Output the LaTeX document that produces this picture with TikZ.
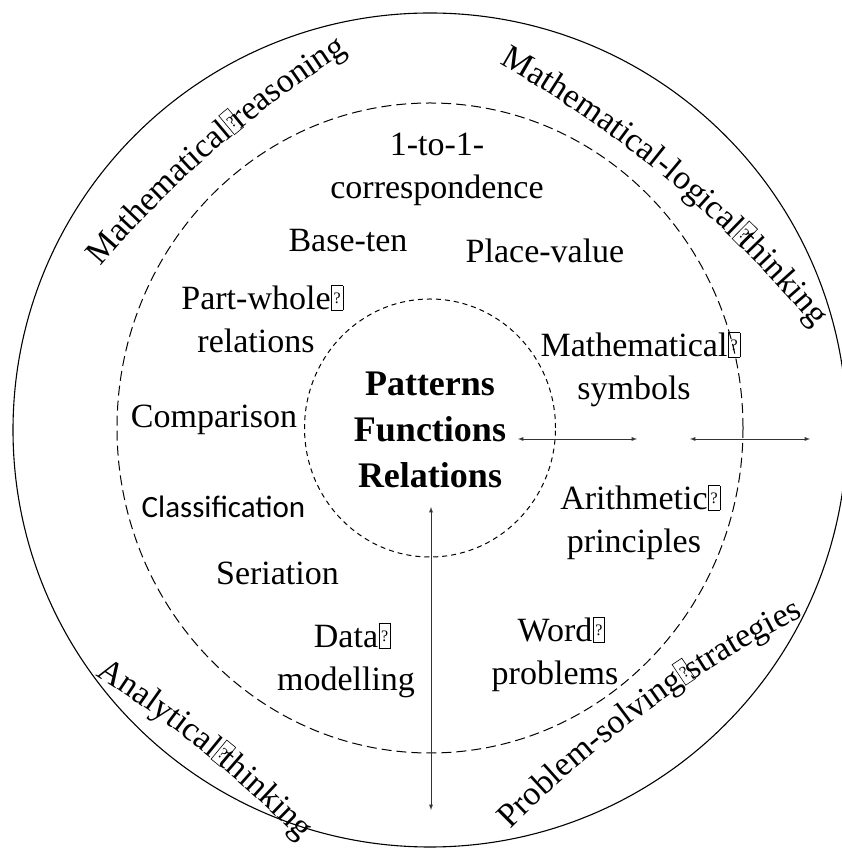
\documentclass[tikz,border=0pt]{standalone}
\usepackage{fontspec}
\setmainfont{Liberation Serif}
\newfontfamily\calib{Carlito}
\usetikzlibrary{calc,decorations.text}
\newcommand{\qbox}{\rlap{\hspace{0.5bp}\fboxsep=0pt\fboxrule=0.6bp\fbox{\makebox[11bp]{\rule{0pt}{24bp}\raisebox{6bp}{\fontsize{16bp}{16bp}\selectfont ?}}}}}
\tikzset{
  lbl/.style={inner sep=0pt,anchor=base,align=center,font=\fontsize{34bp}{43bp}\selectfont},
  core/.style={inner sep=0pt,anchor=base,align=center,font=\fontsize{36bp}{46bp}\selectfont\bfseries},
  ring/.style={dash pattern=on 10bp off 5bp,line width=1bp},
  hub/.style={dash pattern=on 5bp off 4bp,line width=1bp},
  link/.style={<->,black!80,line width=0.9bp},
}
\begin{document}
\begin{tikzpicture}[>=latex,line join=bevel,]
%%
\useasboundingbox (0bp,0bp) rectangle (842bp,849bp);
\draw [line width=1.1bp] (430bp,419bp) circle (417bp);
\draw [ring] (430bp,421bp) ellipse (313bp and 325bp);
\draw [hub] (430bp,421bp) ellipse (125.5bp and 129bp);
  \node (pfr) at (430bp,361bp) [core] {Patterns\\Functions\\Relations};
  \node (corr) at (437bp,650bp) [lbl] {1-to-1-\\correspondence};
  \node (baseten) at (348bp,597bp) [lbl] {Base-ten};
  \node (placeval) at (545bp,586bp) [lbl] {Place-value};
  \node (partwhole) at (256bp,496bp) [lbl] {Part-whole\qbox\\relations};
  \node (mathsym) at (634bp,449bp) [lbl] {Mathematical\qbox\\symbols};
  \node (compar) at (214bp,421bp) [lbl] {Comparison};
  \node (classif) at (223.5bp,331bp) [lbl,font=\fontsize{31bp}{40bp}\calib] {Classification};
  \node (arith) at (634bp,296bp) [lbl] {Arithmetic\qbox\\principles};
  \node (seriat) at (277.5bp,264bp) [lbl] {Seriation};
  \node (datamod) at (346bp,158bp) [lbl] {Data\qbox\\modelling};
  \node (wordprob) at (555bp,164bp) [lbl] {Word\qbox\\problems};
  \coordinate (fnL) at (518bp,410bp);
  \coordinate (fnR) at (637bp,410bp);
  \coordinate (msL) at (690bp,410bp);
  \coordinate (msR) at (810bp,410bp);
  \coordinate (relT) at (431bp,342bp);
  \coordinate (relB) at (431bp,39bp);
  \draw [link] (fnL) -- (fnR);
  \draw [link] (msL) -- (msR);
  \draw [link] (relT) -- (relB);
  \coordinate (reasonM) at (216bp,699bp);
  \coordinate (logicM) at (669bp,668bp);
  \coordinate (analytM) at (203bp,97bp);
  \coordinate (problemM) at (648bp,138bp);
  \coordinate (reasonC) at ($(reasonM)+(-49:1100bp)$);
  \coordinate (logicC) at ($(logicM)+(-130:1100bp)$);
  \coordinate (analytC) at ($(analytM)+(-129:1100bp)$);
  \coordinate (problemC) at ($(problemM)+(-54:1100bp)$);
  \path [decorate,decoration={text along path,text align=center,
    text={|\fontsize{34bp}{40bp}\selectfont|Mathematical{\qbox} reasoning}}]
    ($(reasonC)+(147:1100bp)$) arc[start angle=147,end angle=115,radius=1100bp];
  \path [decorate,decoration={text along path,text align=center,
    text={|\fontsize{34bp}{40bp}\selectfont|Mathematical-logical{\qbox} thinking}}]
    ($(logicC)+(66:1100bp)$) arc[start angle=66,end angle=34,radius=1100bp];
  \path [decorate,decoration={text along path,text align=center,
    text={|\fontsize{34bp}{40bp}\selectfont|Analytical{\qbox} thinking}}]
    ($(analytC)+(67:1100bp)$) arc[start angle=67,end angle=35,radius=1100bp];
  \path [decorate,decoration={text along path,text align=center,
    text={|\fontsize{34bp}{40bp}\selectfont|Problem-solving{\qbox} strategies}}]
    ($(problemC)+(142:1100bp)$) arc[start angle=142,end angle=110,radius=1100bp];
%
\end{tikzpicture}
\end{document}
